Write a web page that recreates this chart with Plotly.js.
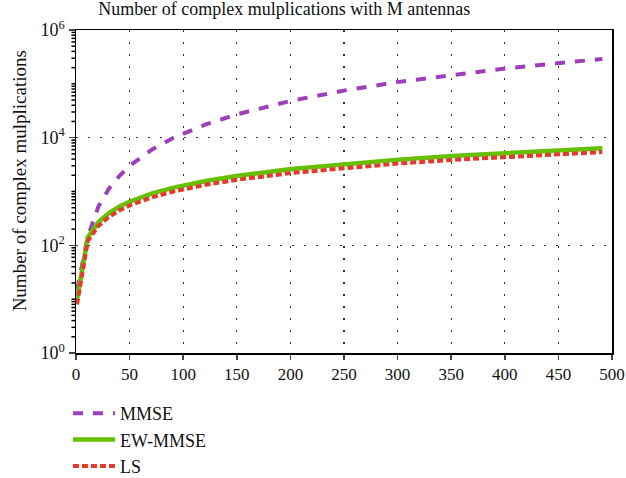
<!DOCTYPE html>
<html>
<head>
<meta charset="utf-8">
<script src="https://cdn.plot.ly/plotly-3.0.1.min.js"></script>
<style>html,body{margin:0;padding:0;background:#fff;}#chart{width:626px;height:478px;}</style>
</head>
<body>
<div id="chart"></div>
<script>
const antennas = [1, 11, 21, 31, 41, 51, 71, 91, 121, 151, 201, 251, 301, 351, 401, 451, 491];
const mmse   = [15, 145, 530, 1150, 2000, 3100, 6050, 9950, 17600, 27400, 48500, 75600, 108700, 147800, 193000, 244100, 289300];
const ewMmse = [10, 140, 270, 400, 530, 660, 920, 1180, 1570, 1960, 2610, 3260, 3910, 4560, 5210, 5860, 6380];
const ls     = [8, 120, 230, 340, 450, 560, 780, 1000, 1330, 1660, 2210, 2760, 3310, 3860, 4410, 4960, 5400];
const seriesNames = ["MMSE", "EW-MMSE", "LS"];
const xTicks = [0, 50, 100, 150, 200, 250, 300, 350, 400, 450, 500];
const yTickVals = [1, 100, 10000, 1000000];
const yTickText = ["10<sup>0</sup>", "10<sup>2</sup>", "10<sup>4</sup>", "10<sup>6</sup>"];

const minorVals = [];
for (let d = 0; d < 6; d++) {
  for (let k = 1; k <= 9; k++) {
    const v = k * Math.pow(10, d);
    if (!yTickVals.includes(v)) minorVals.push(v);
  }
}
const minorShapes = minorVals.map(v => ({
  type: "line", xref: "paper", yref: "y", x0: -0.0085, x1: 0, y0: v, y1: v,
  line: {color: "#000", width: 1.5}, layer: "above"
}));

const font = "Liberation Serif, Times New Roman, serif";
const traces = [
  {x: antennas, y: mmse, name: seriesNames[0], mode: "lines",
   line: {color: "#9d3fbd", width: 4, dash: "10px,10px"}},
  {x: antennas, y: ewMmse, name: seriesNames[1], mode: "lines",
   line: {color: "#66bf00", width: 4.5}},
  {x: antennas, y: ls, name: seriesNames[2], mode: "lines",
   line: {color: "#e23b2c", width: 4, dash: "6px,3px"}}
];
const layout = {
  width: 626, height: 478,
  margin: {l: 76, r: 14, t: 30, b: 125, autoexpand: false},
  paper_bgcolor: "#fff", plot_bgcolor: "#fff",
  font: {family: font, size: 17, color: "#111"},
  title: {text: "Number of complex mulplications with M antennas", x: 0.454, xref: "container",
          xanchor: "center", y: 0.995, yanchor: "top", font: {family: font, size: 18, color: "#111"}},
  xaxis: {range: [0, 500], tickvals: xTicks, ticks: "outside", ticklen: 5, tickwidth: 1.5,
          showline: true, linecolor: "#000", linewidth: 1.5, mirror: true,
          showgrid: true, gridcolor: "#333", griddash: "2px,10px", gridwidth: 1.3, zeroline: false,
          tickfont: {family: font, size: 17}},
  yaxis: {type: "log", range: [0, 6], tickmode: "array", tickvals: yTickVals, ticktext: yTickText,
          ticks: "outside", ticklen: 6, tickwidth: 1.5,
          showline: true, linecolor: "#000", linewidth: 1.5, mirror: true,
          showgrid: true, gridcolor: "#333", griddash: "2px,10px", gridwidth: 1.3, zeroline: false,
          tickfont: {family: font, size: 18}},
  shapes: minorShapes,
  annotations: [{text: "Number of complex mulplications", textangle: -90, showarrow: false,
                 xref: "paper", yref: "paper", x: -0.106, y: 0.532, xanchor: "center", yanchor: "middle",
                 font: {family: font, size: 19, color: "#111"}}],
  legend: {x: -0.015, xanchor: "left", y: -0.13, yanchor: "top", orientation: "v", itemwidth: 42,
           font: {family: font, size: 18}, bgcolor: "rgba(0,0,0,0)", tracegroupgap: 0},
  showlegend: true
};
Plotly.newPlot("chart", traces, layout, {displayModeBar: false, staticPlot: true});
</script>
</body>
</html>
